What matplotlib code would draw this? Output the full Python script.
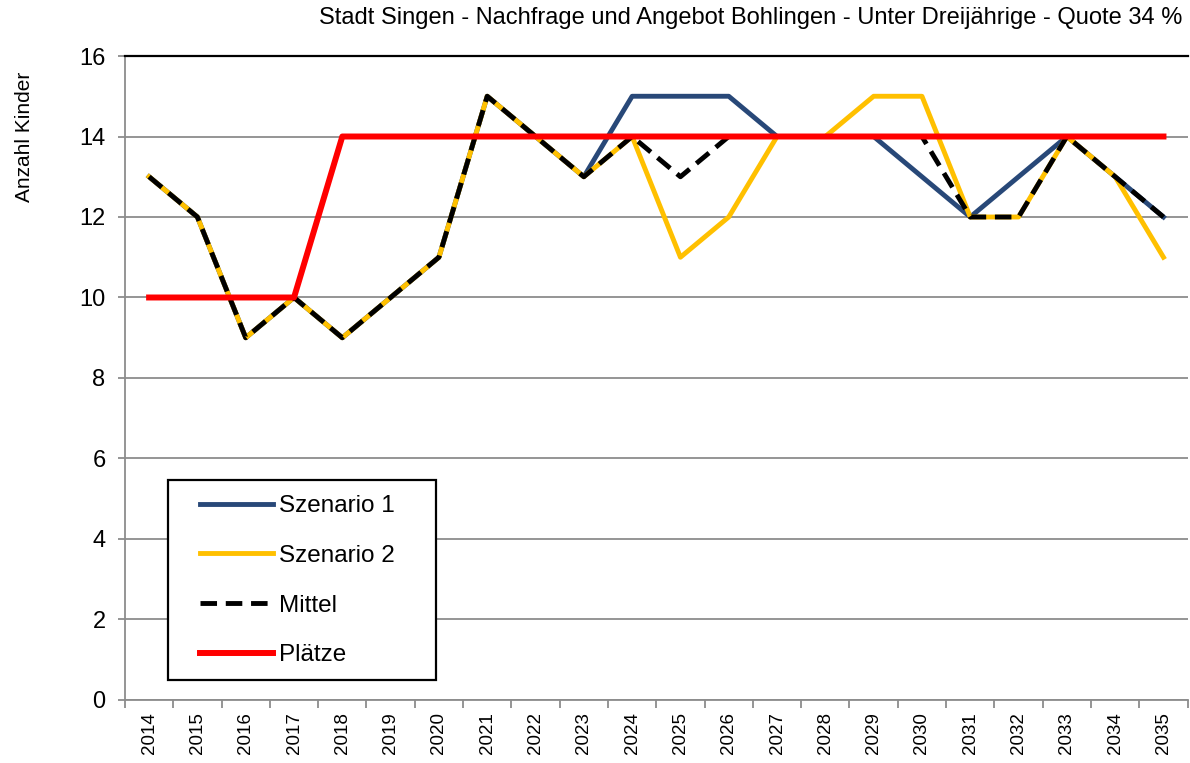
import matplotlib
matplotlib.use("Agg")
import matplotlib.pyplot as plt
from matplotlib.patches import Rectangle
import numpy as np

plt.rcParams['font.family'] = ['Liberation Sans', 'DejaVu Sans']

# data
years = [str(y) for y in range(2014, 2036)]
szenario1 = [13, 12, 9, 10, 9, 10, 11, 15, 14, 13, 15, 15, 15, 14, 14, 14, 13, 12, 13, 14, 13, 12]
szenario2 = [13, 12, 9, 10, 9, 10, 11, 15, 14, 13, 14, 11, 12, 14, 14, 15, 15, 12, 12, 14, 13, 11]
mittel = [13, 12, 9, 10, 9, 10, 11, 15, 14, 13, 14, 13, 14, 14, 14, 14, 14, 12, 12, 14, 13, 12]
plaetze = [10, 10, 10, 10, 14, 14, 14, 14, 14, 14, 14, 14, 14, 14, 14, 14, 14, 14, 14, 14, 14, 14]

x = np.arange(len(years))

fig = plt.figure(figsize=(11.9, 7.63), dpi=100)
ax = fig.add_axes([0.105, 0.0826, 0.893, 0.844])

ax.plot(x, szenario1, color='#284878', lw=3.5, label='Szenario 1', zorder=3)
ax.plot(x, szenario2, color='#FFC000', lw=3.5, label='Szenario 2', zorder=4)
ax.plot(x, mittel, color='black', lw=3.5, ls=(0, (3.4, 1.8)), label='Mittel', zorder=5)
ax.plot(x, plaetze, color='#FF0000', lw=4.3, label='Plätze', zorder=6)

ax.set_xlim(-0.5, len(years) - 0.5)
ax.set_ylim(0, 16)
ax.set_yticks(range(0, 17, 2))
ax.yaxis.grid(True, color='#8c8c8c', lw=1.3)
ax.set_axisbelow(True)

ax.set_xticks(x)
ax.set_xticklabels(years, rotation=90, fontsize=13.5)
ax.set_xticks(np.arange(-0.5, len(years), 1), minor=True)
ax.tick_params(axis='x', which='major', length=0, pad=9)
ax.tick_params(axis='x', which='minor', length=6, color='#8c8c8c', width=1.3)
ax.tick_params(axis='y', labelsize=17, length=5, color='#8c8c8c', width=1.3, pad=9)

for s in ['left', 'bottom']:
    ax.spines[s].set_color('#8c8c8c')
    ax.spines[s].set_linewidth(1.3)
ax.spines['right'].set_visible(False)
ax.spines['top'].set_color('black')
ax.spines['top'].set_linewidth(1.6)

fig.text(25 / 1190, 1 - 137 / 763, 'Anzahl Kinder', rotation=90, ha='center', va='center', fontsize=15)
fig.text(0.994, 0.977, 'Stadt Singen - Nachfrage und Angebot Bohlingen - Unter Dreijährige - Quote 34 %',
         ha='right', va='center', fontsize=17)

# legend box like the Excel one
ax.add_patch(Rectangle((0.0405, 0.031), 0.252, 0.311, transform=ax.transAxes,
                       facecolor='white', edgecolor='black', lw=1.6, zorder=7))
leg = ax.legend(loc='upper left', bbox_to_anchor=(0.0706, 0.318), fontsize=17.5,
                frameon=False, handlelength=3.0, labelspacing=1.14, borderpad=0,
                handletextpad=0.25, borderaxespad=0)
leg.set_zorder(8)

fig.savefig('out.png', dpi=100)
